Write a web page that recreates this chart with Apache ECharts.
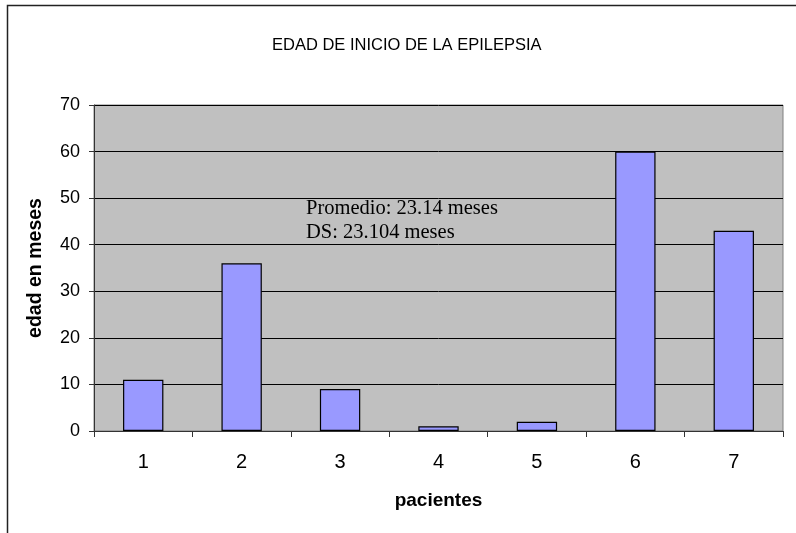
<!DOCTYPE html>
<html>
<head>
<meta charset="utf-8">
<script src="https://cdn.jsdelivr.net/npm/echarts@6/dist/echarts.min.js"></script>
<style>
html,body{margin:0;padding:0;background:#fff;}
#chart{width:796px;height:533px;}
</style>
</head>
<body>
<div id="chart"></div>
<script>
const categories = ['1', '2', '3', '4', '5', '6', '7'];
const edadMeses = [11, 36, 9, 1, 2, 60, 43];
const yTicks = { min: 0, max: 70, interval: 10 };
const titleText = 'EDAD DE INICIO DE LA EPILEPSIA';
const yName = 'edad en meses';
const xName = 'pacientes';
const noteLines = ['Promedio: 23.14 meses', 'DS: 23.104 meses'];

const chart = echarts.init(document.getElementById('chart'), null, { renderer: 'canvas' });
chart.setOption({
  animation: false,
  backgroundColor: '#ffffff',
  title: {
    text: titleText,
    left: 272,
    top: 37,
    padding: 0,
    textStyle: { fontFamily: 'Liberation Sans, Arial, sans-serif', fontSize: 16.5, fontWeight: 'normal', color: '#000' }
  },
  grid: {
    left: 94, right: 13, top: 105, bottom: 102,
    show: true, backgroundColor: '#C0C0C0', borderColor: '#808080', borderWidth: 1
  },
  xAxis: {
    type: 'category',
    data: categories,
    name: xName,
    nameLocation: 'middle',
    nameGap: 60,
    nameTextStyle: { fontFamily: 'Liberation Sans, Arial, sans-serif', fontSize: 19, fontWeight: 'bold', color: '#000' },
    axisLine: { lineStyle: { color: '#333', width: 1 } },
    axisTick: { show: true, length: 6, alignWithLabel: false, lineStyle: { color: '#333' } },
    axisLabel: { margin: 21, fontFamily: 'Liberation Sans, Arial, sans-serif', fontSize: 20, color: '#000' },
    splitLine: { show: false }
  },
  yAxis: {
    type: 'value',
    min: yTicks.min, max: yTicks.max, interval: yTicks.interval,
    name: yName,
    nameLocation: 'middle',
    nameGap: 48,
    nameRotate: 90,
    nameTextStyle: { fontFamily: 'Liberation Sans, Arial, sans-serif', fontSize: 19.5, fontWeight: 'bold', color: '#000' },
    axisLine: { show: true, lineStyle: { color: '#333', width: 1 } },
    axisTick: { show: true, length: 5, lineStyle: { color: '#333' } },
    axisLabel: { margin: 14, fontFamily: 'Liberation Sans, Arial, sans-serif', fontSize: 18, color: '#000' },
    splitLine: { show: true, lineStyle: { color: '#000', width: 1 } }
  },
  series: [{
    type: 'bar',
    data: edadMeses,
    barWidth: '41%',
    itemStyle: { color: '#9999FF', borderColor: '#000', borderWidth: 1.2 }
  }],
  graphic: [
    {
      type: 'rect',
      left: 5, top: 3,
      shape: { x: 0, y: 0, width: 900, height: 700 },
      style: { fill: 'none', stroke: '#222', lineWidth: 1.5 },
      silent: true
    },
    {
      type: 'text',
      left: 306, top: 197,
      style: {
        text: noteLines.join('\n'),
        font: '20.5px "Liberation Serif", "Times New Roman", serif',
        lineHeight: 24,
        fill: '#000'
      },
      z: 100
    }
  ]
});
</script>
</body>
</html>
